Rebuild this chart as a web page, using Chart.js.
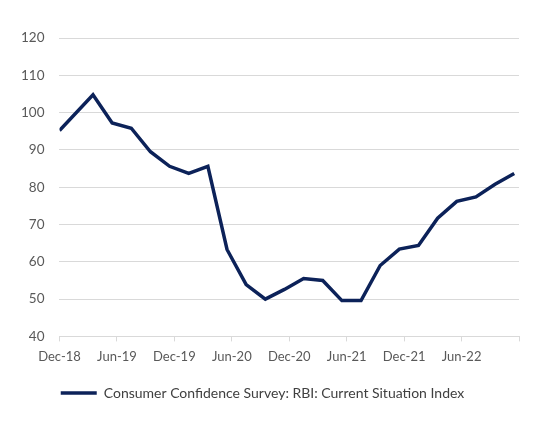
<!DOCTYPE html>
<html>
<head>
<meta charset="utf-8">
<script src="https://cdn.jsdelivr.net/npm/chart.js@4/dist/chart.umd.min.js"></script>
<style>
  html, body { margin: 0; padding: 0; background: #fff; }
  #wrap { width: 543px; height: 430px; }
</style>
</head>
<body>
<div id="wrap"><canvas id="lineChart"></canvas></div>
<script>
// months since start of Dec-18 (survey rounds, roughly mid-month)
const surveyMonths = [0, 3.5, 5.5, 7.5, 9.5, 11.5, 13.5, 15.5, 17.5, 19.5, 21.5, 23.5,
  25.5, 27.5, 29.5, 31.5, 33.5, 35.5, 37.5, 39.5, 41.5, 43.5, 45.5, 47.5];
const csiValues = [95.2, 104.8, 97.2, 95.8, 89.5, 85.6, 83.7, 85.6, 63.3, 53.9, 50.0, 52.6,
  55.5, 55.0, 49.6, 49.6, 59.0, 63.4, 64.4, 71.7, 76.2, 77.4, 80.8, 83.7];
const tickLabels = ['Dec-18', 'Jun-19', 'Dec-19', 'Jun-20', 'Dec-20', 'Jun-21', 'Dec-21', 'Jun-22', ''];
const seriesName = 'Consumer Confidence Survey: RBI: Current Situation Index';

document.addEventListener('DOMContentLoaded', () => {
  const ctx = document.getElementById('lineChart');
  const points = [];
  surveyMonths.forEach((m, i) => {
    points.push({ x: m, y: csiValues[i] });
  });

  const data = {
    datasets: [{
      label: seriesName,
      data: points,
      borderColor: '#0c2259',
      backgroundColor: '#0c2259',
      borderWidth: 3.5,
      pointRadius: 0,
      tension: 0,
      fill: false
    }]
  };

  const config = {
    type: 'line',
    data: data,
    options: {
      responsive: true,
      maintainAspectRatio: false,
      animation: false,
      layout: { padding: { left: 6, right: 24, top: 38, bottom: 20 } },
      plugins: {
        tooltip: { enabled: false },
        legend: {
          position: 'bottom',
          labels: {
            usePointStyle: true,
            pointStyle: 'line',
            pointStyleWidth: 36,
            color: '#404040',
            font: { family: 'Lato', size: 14 },
            padding: 13
          }
        }
      },
      scales: {
        x: {
          type: 'linear',
          min: 0,
          max: 48,
          ticks: {
            stepSize: 6,
            color: '#595959',
            font: { family: 'Lato', size: 13 },
            maxRotation: 0,
            autoSkip: false,
            padding: 8,
            callback: (v) => tickLabels[Math.round(v / 6)]
          },
          grid: {
            drawOnChartArea: false,
            drawTicks: true,
            tickLength: 5,
            color: '#d9d9d9'
          },
          border: { color: '#d9d9d9' }
        },
        y: {
          min: 40,
          max: 120,
          ticks: {
            stepSize: 10,
            color: '#595959',
            font: { family: 'Lato', size: 13.5 },
            padding: 15
          },
          grid: { color: '#d9d9d9', drawTicks: false },
          border: { display: false }
        }
      }
    }
  };
  new Chart(ctx, config);
});
</script>
</body>
</html>
